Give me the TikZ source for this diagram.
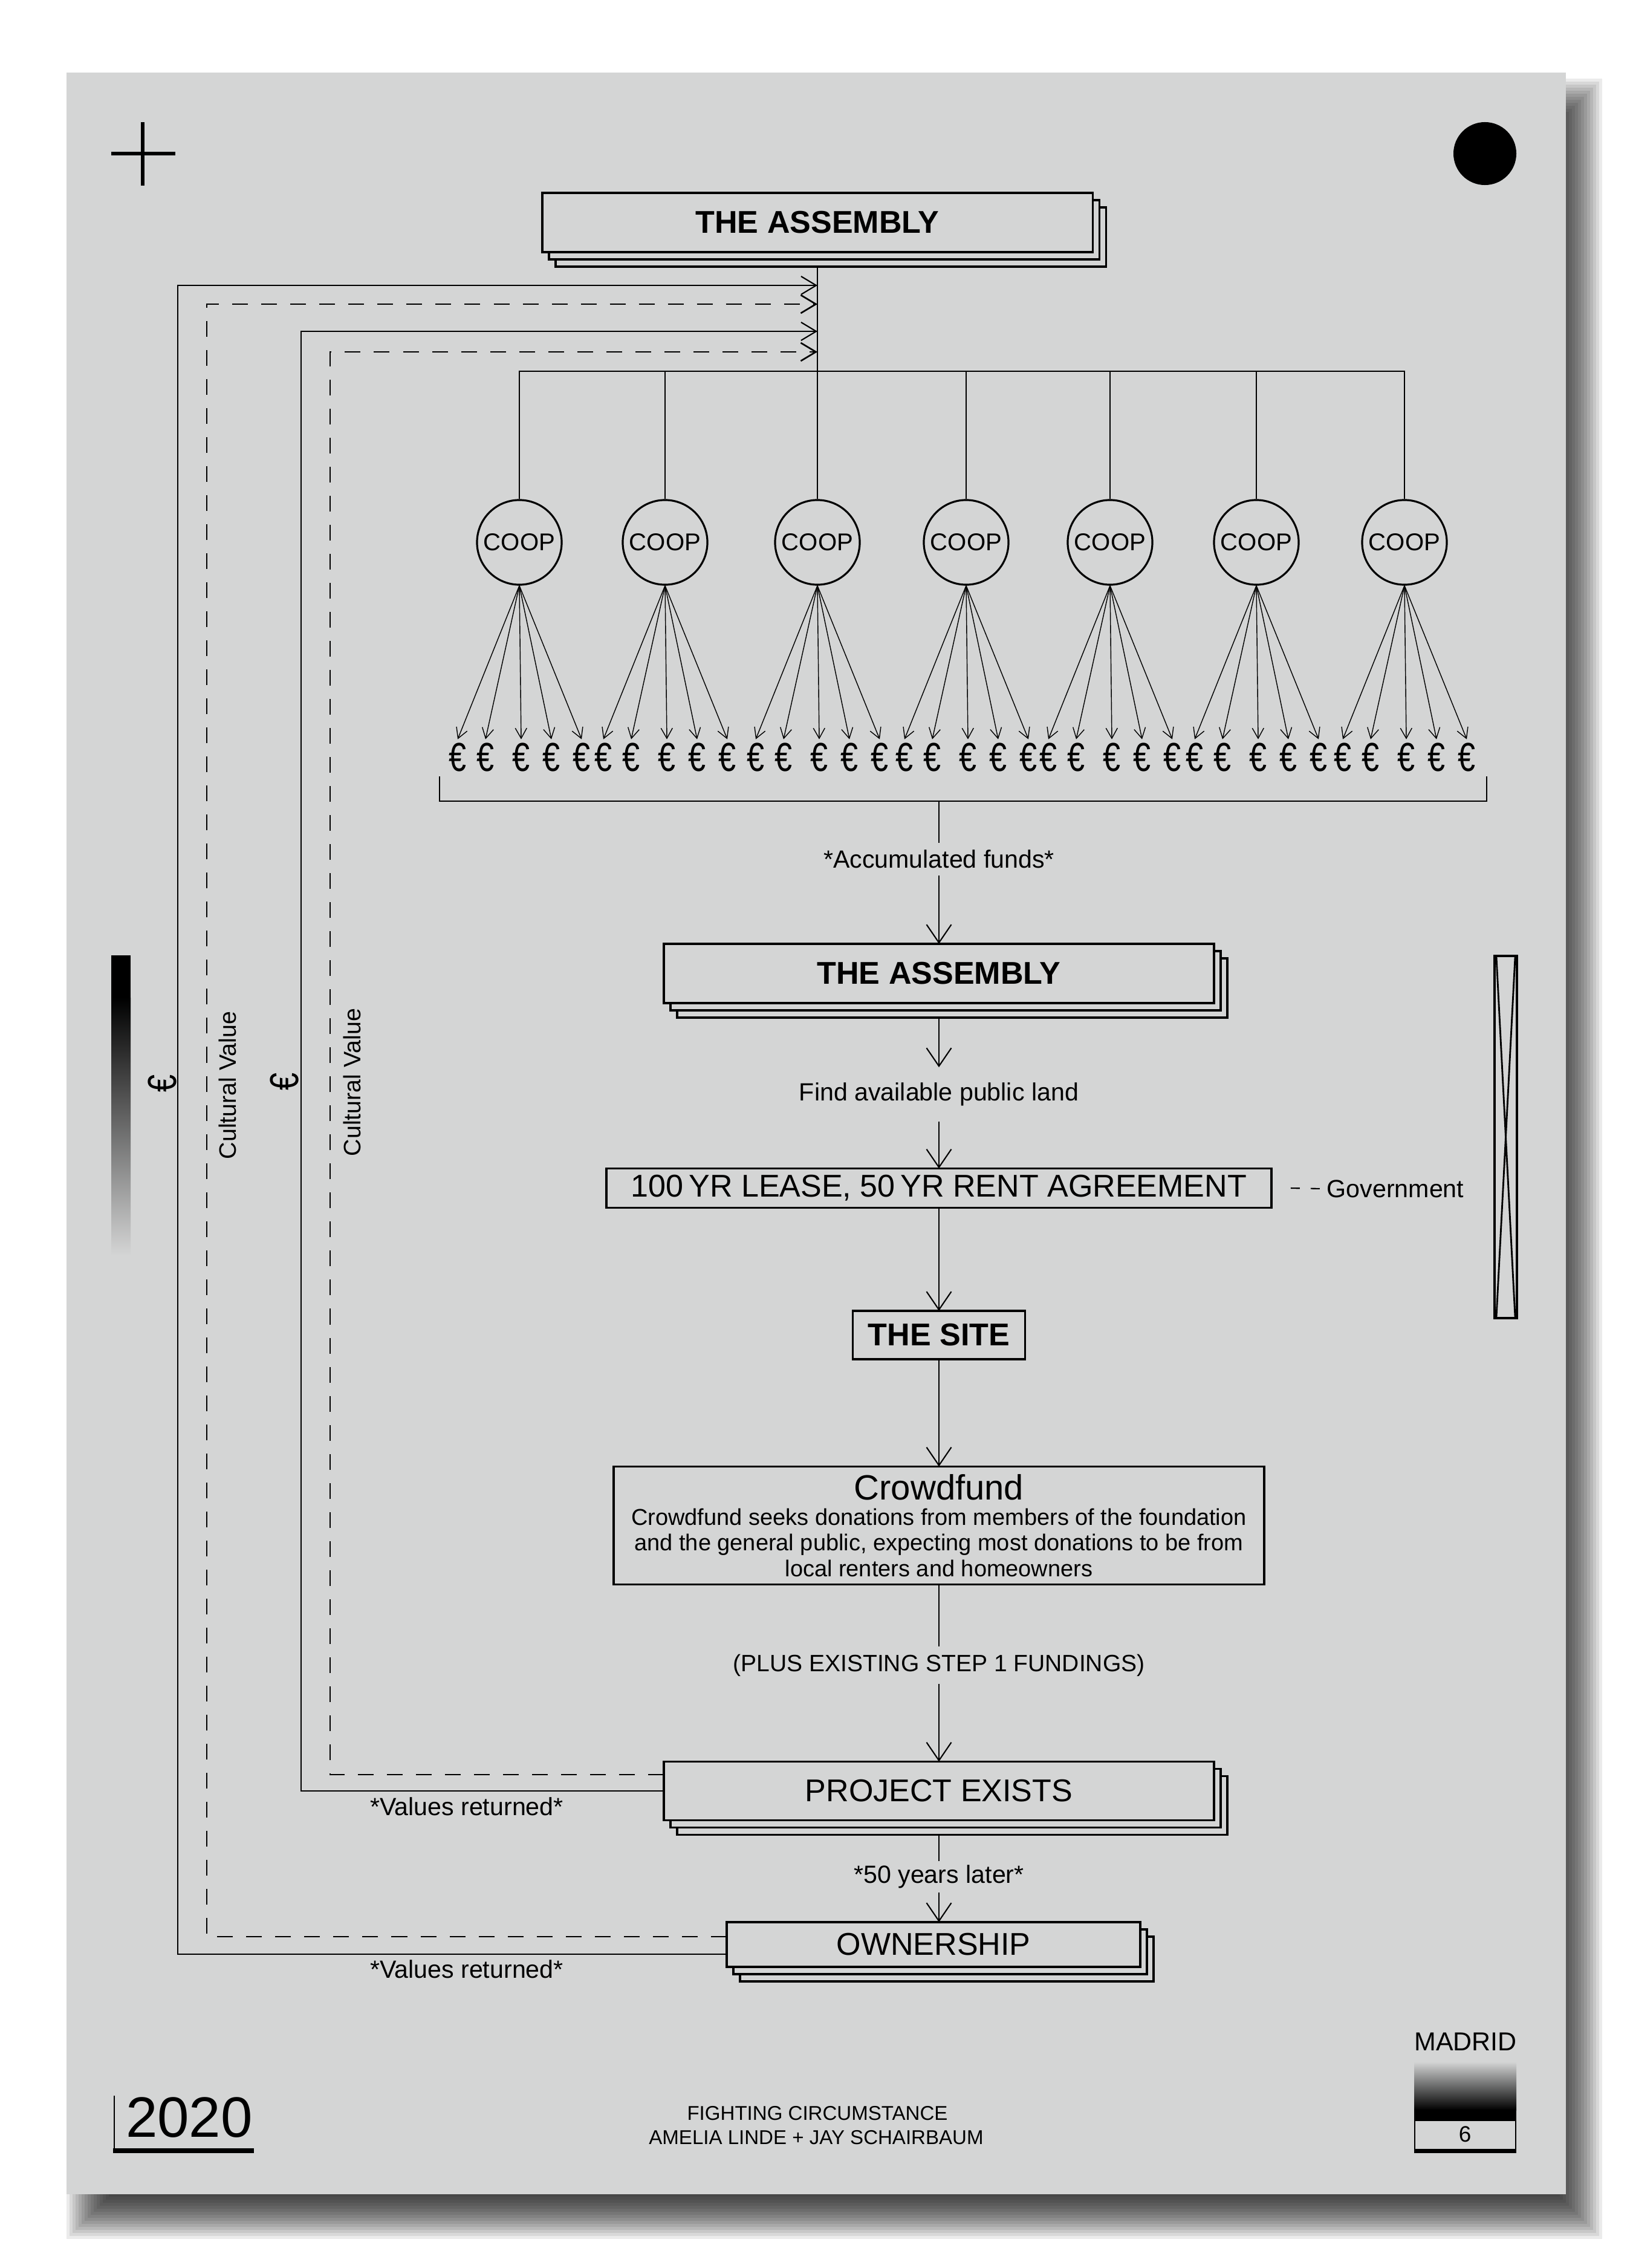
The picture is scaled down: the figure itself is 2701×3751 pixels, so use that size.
\documentclass[tikz,border=0pt]{standalone}
\usepackage{fontspec}
\setmainfont{Liberation Sans}
\usetikzlibrary{arrows.meta}
\definecolor{paper}{RGB}{212,213,213}
\pgfdeclarelayer{bg}
\pgfdeclarelayer{back}
\pgfsetlayers{bg,back,main}
\newcommand\myfs[1]{\fontsize{#1}{#1}\selectfont}
\newcommand\narroweuro{\scalebox{0.78}[1]{€}}
\newcommand\stackcopies[1]{%
  \begin{pgfonlayer}{back}
    \draw[boxline,fill=paper] ([shift={(22,24)}]#1.north west) rectangle ([shift={(22,24)}]#1.south east);
    \draw[boxline,fill=paper] ([shift={(11,12)}]#1.north west) rectangle ([shift={(11,12)}]#1.south east);
  \end{pgfonlayer}}
\begin{document}
\begin{tikzpicture}[x=0.01cm,y=-0.01cm,
  boxline/.style={line width=1pt},
  sbox/.style={draw,boxline,fill=paper,inner sep=0pt,outer sep=0pt,font=\myfs{14.8}},
  bbox/.style={sbox,font=\myfs{14.8}\bfseries},
  ann/.style={inner xsep=0.04cm,font=\myfs{11.7}},
  coopnode/.style={draw,circle,line width=0.9pt,minimum size=1.4cm,inner sep=0pt,font=\myfs{11.4}},
  euro/.style={inner sep=0.05cm,font=\myfs{19}},
  plain/.style={line width=0.6pt},
  flow/.style={line width=0.6pt,-{Straight Barb[length=0.3cm,width=0.41cm]}},
  fan/.style={line width=0.4pt,-{Straight Barb[length=0.17cm,width=0.19cm]}},
  ret/.style={line width=0.6pt,-{Straight Barb[length=0.25cm,width=0.3cm]}},
  dret/.style={ret,line width=0.75pt,dash pattern=on 0.26cm off 0.22cm},
  govdash/.style={line width=0.6pt,dash pattern=on 0.15cm off 0.18cm}]

\useasboundingbox (0,0) rectangle (2701,3751);

% page, shadow and paper
\begin{pgfonlayer}{bg}
  \fill[white] (0,0) rectangle (2701,3751);
  \foreach \k in {0,...,14}{
    \pgfmathsetmacro\dd{(\k-7)*5}
    \fill[black,opacity=0.08] (145-\dd,165-\dd) rectangle (2615+\dd,3668+\dd);
  }
  \fill[paper] (110,120) rectangle (2590,3629);
\end{pgfonlayer}

% corner marks
\draw[line width=1.7pt] (236,202) -- (236,307) (184,254) -- (290,254);
\fill (2456,254) circle[radius=0.52cm];

% left gradient bar
\fill[black] (184,1580) rectangle (216,1652);
\shade[top color=black,bottom color=paper] (184,1650) rectangle (216,2076);

% right X box
\draw[line width=0.95pt] (2472,1581) rectangle (2509,2180);
\draw[line width=0.8pt] (2475,1583) -- (2506,2178) (2506,1583) -- (2475,2178);

% top assembly
\node[bbox,minimum width=9.1cm,minimum height=0.98cm] (asm1) at (1352,368) {THE ASSEMBLY};
\stackcopies{asm1}

% coops and euros
\foreach \i/\x in {1/859,2/1100,3/1352,4/1598,5/1836,6/2078,7/2323}{
  \node[coopnode] (coop\i) at (\x,897) {COOP};
  \foreach \j/\off in {1/-102,2/-56,3/3,4/53,5/103}{
    \node[euro] (e\i\j) at (\x+\off,1252) {\narroweuro};
    \draw[fan] (coop\i.south) -- (e\i\j.north);
  }
}

\coordinate (bus) at (1352,614);
\draw[plain] ([yshift=-0.24cm]asm1.south) -- (coop3.north);
\draw[plain] (coop1.north) |- (bus) -| (coop7.north);
\foreach \i in {2,4,5,6}{\draw[plain] (coop\i.north) -- (coop\i.north |- bus);}

% bracket under euros
\coordinate (bkl) at (727,1284);
\coordinate (bkr) at (2459,1284);
\coordinate (bkm) at (1553,1325);
\draw[plain] (bkl) |- (bkm) -| (bkr);

% main flow
\node[ann,inner ysep=0.11cm] (acc) at (1553,1421) {*Accumulated funds*};
\node[bbox,minimum width=9.09cm,minimum height=0.98cm] (asm2) at (1553,1610) {THE ASSEMBLY};
\stackcopies{asm2}
\node[ann,inner ysep=0.25cm] (find) at (1553,1810) {Find available public land};
\node[sbox,minimum width=10.99cm,minimum height=0.65cm] (lease) at (1553,1965) {100\,YR LEASE, 50\,YR RENT AGREEMENT};
\node[ann,inner xsep=0.06cm] (gov) at (2308,1966) {Government};
\node[bbox,minimum width=2.85cm,minimum height=0.8cm] (site) at (1553,2208) {THE SITE};
\node[sbox,align=center,minimum width=10.75cm,minimum height=1.95cm,font=\fontsize{10.8}{12}\selectfont] (crowd) at (1553,2523)
  {{\fontsize{16.5}{12}\selectfont Crowdfund}\\
   Crowdfund seeks donations from members of the foundation\\
   and the general public, expecting most donations to be from\\
   local renters and homeowners};
\node[ann,inner ysep=0.12cm,font=\myfs{11.1}] (plus) at (1553,2754) {(PLUS EXISTING STEP 1 FUNDINGS)};
\node[sbox,minimum width=9.09cm,minimum height=0.97cm] (pe) at (1553,2962) {PROJECT EXISTS};
\stackcopies{pe}
\node[ann,inner ysep=0.06cm] (l50) at (1553,3104) {*50 years later*};
\node[sbox,minimum width=6.84cm,minimum height=0.74cm] (own) at (1544,3216) {OWNERSHIP};
\stackcopies{own}

\draw[plain] (bkm) -- (acc.north);
\draw[flow] (acc.south) -- (asm2.north);
\draw[flow] ([yshift=-0.24cm]asm2.south) -- (find.north);
\draw[flow] (find.south) -- (lease.north);
\draw[govdash] ([xshift=0.32cm]lease.east) -- (gov.west);
\draw[flow] (lease.south) -- (site.north);
\draw[flow] (site.south) -- (crowd.north);
\draw[plain] (crowd.south) -- (plus.north);
\draw[flow] (plus.south) -- (pe.north);
\draw[plain] ([yshift=-0.23cm]pe.south) -- (l50.north);
\draw[flow] (l50.south) -- (own.north -| l50.south);

% return loops
\coordinate (c1) at (294,472);  \coordinate (t1) at (1352,472);
\coordinate (c2) at (342,503);  \coordinate (t2) at (1352,503);
\coordinate (c3) at (498,548);  \coordinate (t3) at (1352,548);
\coordinate (c4) at (546,582);  \coordinate (t4) at (1352,582);
\draw[ret] ([yshift=-0.16cm]own.west) -| (c1) -- (t1);
\draw[dret] ([yshift=0.13cm]own.west) -| (c2) -- (t2);
\draw[ret] (pe.west) -| (c3) -- (t3);
\draw[dret] ([yshift=0.27cm]pe.west) -| (c4) -- (t4);

\node[ann] (vr1) at (772,2988) {*Values returned*};
\node[ann] (vr2) at (772,3257) {*Values returned*};

\node[rotate=90,font=\myfs{19}] (eu1) at (268,1792) {\narroweuro};
\node[rotate=90,font=\myfs{11.2}] (cv1) at (376,1795) {Cultural Value};
\node[rotate=90,font=\myfs{19}] (eu2) at (470,1789) {\narroweuro};
\node[rotate=90,font=\myfs{11.2}] (cv2) at (582,1790) {Cultural Value};

% footer
\draw[line width=0.85pt] (189,3466) -- (189,3560);
\fill (187,3553) rectangle (420,3561);
\node[inner sep=0pt,font=\myfs{26.8}] (year) at (313,3502) {2020};
\node[inner sep=0pt,font=\myfs{9.4}] (title) at (1352,3495) {FIGHTING CIRCUMSTANCE};
\node[inner sep=0pt,font=\myfs{9.4}] (authors) at (1350,3535) {AMELIA LINDE + JAY SCHAIRBAUM};
\node[inner sep=0pt,font=\myfs{12.2}] (madrid) at (2424,3377) {MADRID};
\shade[top color=paper,bottom color=black] (2339,3410) rectangle (2508,3490);
\fill[black] (2339,3489) rectangle (2508,3508);
\draw[line width=0.7pt] (2340,3508) -- (2340,3556) (2507,3508) -- (2507,3556);
\fill (2339,3554) rectangle (2508,3561);
\node[inner sep=0pt,font=\myfs{10.5}] (page) at (2423,3530) {6};
\end{tikzpicture}
\end{document}
